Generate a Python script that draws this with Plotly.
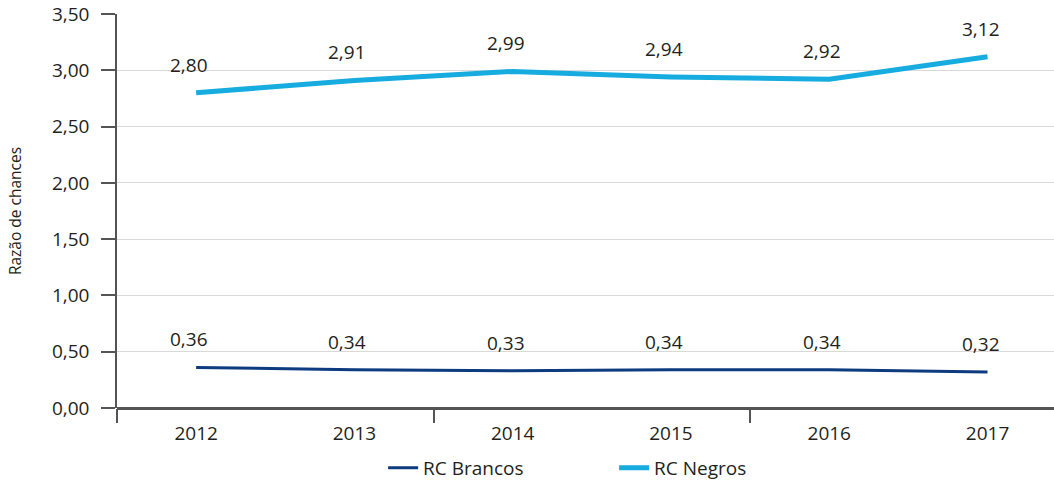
import plotly.graph_objects as go

years = [2012, 2013, 2014, 2015, 2016, 2017]
rc_brancos = [0.36, 0.34, 0.33, 0.34, 0.34, 0.32]
rc_negros = [2.80, 2.91, 2.99, 2.94, 2.92, 3.12]
series_names = ["RC Brancos", "RC Negros"]
y_ticks = [0, 0.5, 1.0, 1.5, 2.0, 2.5, 3.0, 3.5]
group_ticks = [2011.5, 2013.5, 2015.5, 2017.5]

FONT = "Open Sans"
TXT = "#231f20"
AX = "#555555"
XR = [2011.5, 2017.42]
FS = 19

fig = go.Figure()
fig.add_trace(go.Scatter(x=years, y=rc_brancos, mode="lines", name=series_names[0],
                         line=dict(color="#0c3b80", width=3)))
fig.add_trace(go.Scatter(x=years, y=rc_negros, mode="lines", name=series_names[1],
                         line=dict(color="#17acdf", width=5)))
# invisible helper trace for the group tick axis
fig.add_trace(go.Scatter(x=group_ticks, y=[0] * len(group_ticks), xaxis="x2", mode="lines",
                         line=dict(width=0), showlegend=False, hoverinfo="skip"))

for vals in (rc_brancos, rc_negros):
    for xv, yv in zip(years, vals):
        fig.add_annotation(x=xv, y=yv, text=f"{yv:.2f}".replace(".", ","),
                           showarrow=False, yanchor="middle", yshift=28, xshift=-7,
                           font=dict(family=FONT, size=FS, color=TXT))

fig.update_layout(
    width=1054, height=480,
    margin=dict(l=117, r=0, t=14, b=72, autoexpand=False),
    paper_bgcolor="white", plot_bgcolor="white",
    separators=", ",
    font=dict(family=FONT, size=FS, color=TXT),
    showlegend=True,
    legend=dict(orientation="h", x=0.284, xanchor="left", y=-0.152, yanchor="middle",
                entrywidth=186, entrywidthmode="pixels",
                font=dict(family=FONT, size=FS, color=TXT), bgcolor="rgba(0,0,0,0)"),
    xaxis=dict(range=XR, tickmode="array", tickvals=years, ticktext=[str(y) for y in years],
               ticks="", showgrid=False, zeroline=False, showline=False, automargin=False,
               tickfont=dict(family=FONT, size=FS, color=TXT), ticklabelstandoff=12),
    xaxis2=dict(range=XR, overlaying="x", anchor="y", side="bottom", tickmode="array",
                tickvals=group_ticks, ticks="outside", ticklen=14, tickcolor=AX, tickwidth=1.5,
                showticklabels=False, showgrid=False, zeroline=False, showline=False,
                automargin=False),
    yaxis=dict(range=[0, 3.5], tickmode="array", tickvals=y_ticks, tickformat=".2f",
               ticks="outside", ticklen=14, tickcolor=AX, tickwidth=1.5,
               showline=True, linecolor=AX, linewidth=1.5, automargin=False,
               showgrid=True, gridcolor="#d9d9d9", gridwidth=1,
               zeroline=True, zerolinecolor=AX, zerolinewidth=2.5,
               tickfont=dict(family=FONT, size=FS, color=TXT), ticklabelstandoff=8,
               title=dict(text="Razão de chances", standoff=27,
                          font=dict(family=FONT, size=15.5, color=TXT))),
)

# remove the browser's default 8px body margin so the figure fills the window exactly
fig.write_html("out.html", config={"displayModeBar": False},
               post_script="document.body.style.margin='0';document.body.style.overflow='hidden';")
